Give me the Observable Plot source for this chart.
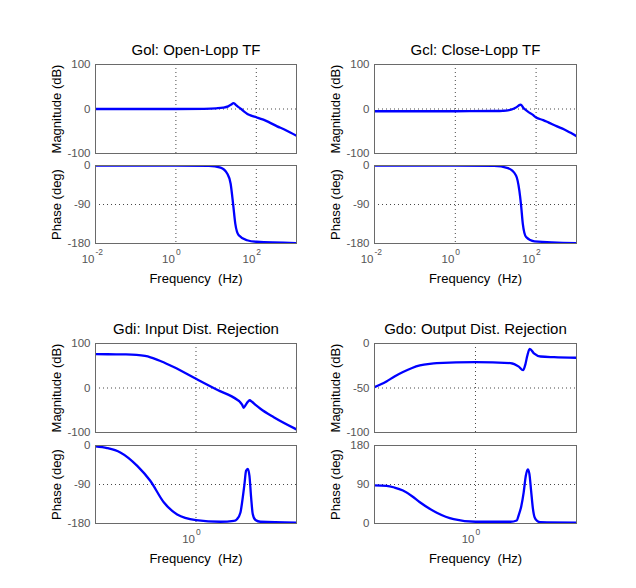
<!DOCTYPE html>
<html>
<head>
<meta charset="utf-8">
<script src="https://cdn.jsdelivr.net/npm/d3@7"></script>
<script src="https://cdn.jsdelivr.net/npm/@observablehq/plot@0.6"></script>
<style>
html, body { margin: 0; padding: 0; background: #fff; }
#chart { position: relative; width: 636px; height: 588px; background: #fff; overflow: hidden; }
#chart svg { position: absolute; overflow: visible; }
</style>
</head>
<body>
<div id="chart"></div>
<script>
// ---------- data ----------
const titles = ["Gol: Open-Lopp TF", "Gcl: Close-Lopp TF", "Gdi: Input Dist. Rejection", "Gdo: Output Dist. Rejection"];
const magLabel = "Magnitude (dB)";
const phaseLabel = "Phase (deg)";
const freqLabel = "Frequency  (Hz)";

const topFreqDomain = [0.01, 1000];
const topFreqTicks = [0.01, 1, 100];
const topFreqExp = ["-2", "0", "2"];
const bottomFreqDomain = [0.00135, 741];
const bottomFreqTicks = [1];
const bottomFreqExp = ["0"];

const magTicks = [100, 0, -100];
const phaseTicks = [0, -90, -180];
const gdoMagTicks = [0, -50, -100];
const gdoPhaseTicks = [180, 90, 0];

// Gol: open-loop
const golMagFreq = [0.01, 0.1, 1, 5, 10, 15, 20, 24, 27, 29, 32, 37, 42, 50, 60, 75, 100, 150, 200, 330, 500, 700, 1000];
const golMagDb   = [0, 0, 0, 0.5, 1.5, 3, 6, 10, 13, 12, 8, 3.5, 0, -6, -11, -15, -18.5, -24, -29, -39, -46, -53, -60];
const golPhFreq  = [0.01, 1, 6.6, 12.9, 19, 23, 26.7, 30, 36.6, 59, 100, 1000];
const golPhDeg   = [0, 0, -1, -5, -19, -42, -92, -134, -161, -172.5, -176, -179];

// Gcl: closed-loop
const gclMagFreq = [0.01, 1, 10, 15, 20, 25, 30, 35, 38, 41, 44, 48, 55, 65, 80, 100, 150, 200, 330, 500, 700, 1000];
const gclMagDb   = [-5, -5, -4.5, -4, -3, -1, 2, 6, 8.5, 10, 8, 3, -2, -7, -12, -19, -25, -30, -39, -46, -53, -61];
const gclPhFreq  = [0.01, 1, 9.1, 20, 31.8, 38.5, 42.5, 46.8, 56.6, 91, 1000];
const gclPhDeg   = [0, 0, -1, -6, -23, -58, -92, -134, -165, -175, -179];

// Gdi: input disturbance rejection
const gdiMagFreq = [0.00135, 0.003, 0.01, 0.02, 0.035, 0.05, 0.1, 0.23, 1, 4, 15, 17.8, 20.9, 22.9, 26.3, 30.2, 33.9, 39.8, 50.1, 69.2, 166, 741];
const gdiMagDb   = [76, 75.8, 75.5, 74.5, 72, 69, 60, 47, 20.6, -4, -26.5, -31, -38, -44.5, -38, -31, -27.5, -31, -38, -46.7, -65.6, -93];
const gdiPhFreq  = [0.00135, 0.0029, 0.0069, 0.021, 0.05, 0.12, 0.29, 1, 5, 12, 14.8, 18.6, 20.7, 24.2, 26.9, 30.1, 33.6, 37.5, 41.7, 49.8, 69, 741];
const gdiPhDeg   = [-2, -6, -16, -47, -82, -131, -159, -172, -176, -174, -170, -154.6, -131.5, -89, -58.4, -54, -70, -120, -158, -172, -176, -178];

// Gdo: output disturbance rejection
const gdoMagFreq = [0.00135, 0.00295, 0.005, 0.0087, 0.0158, 0.0263, 0.05, 0.0794, 1, 9.77, 17, 22.4, 26.3, 29.5, 34.7, 45.7, 70.8, 170, 741];
const gdoMagDb   = [-49, -42.7, -37, -32, -27.5, -24.7, -22.8, -22, -21, -22, -26, -30, -23, -14, -6, -11, -14.6, -15.4, -16];
const gdoPhFreq  = [0.00135, 0.00295, 0.005, 0.0087, 0.0158, 0.0263, 0.05, 0.0794, 0.24, 1, 9.77, 14.8, 17, 20, 23.4, 26.9, 30.6, 33.9, 38, 42.7, 47.9, 56.2, 69.2, 741];
const gdoPhDeg   = [88, 87, 83, 76, 63, 49, 34, 25, 10, 4, 4, 7, 20, 40, 72, 110, 125, 115, 76, 35, 14, 6, 3, 2];

// ---------- layout ----------
const FONT = "'Liberation Sans', Arial, Helvetica, sans-serif";
const colLeft = [95, 374];
const colWidth = [201, 202];
const magTop = [64, 343];
const phTop = [165, 445];
const magH = 89, phH = 78;
const ML = 62, MR = 8;

const chart = document.getElementById("chart");

function panel(o) {
  const mt = o.kind === "mag" ? 34 : 4;
  const mb = o.kind === "mag" ? 4 : 48;
  const marks = [
    Plot.gridX(o.xTicks, {stroke: "#333", strokeOpacity: 0.9, strokeDasharray: "1,3", strokeWidth: 1}),
    Plot.gridY(o.yTicks, {stroke: "#333", strokeOpacity: 0.9, strokeDasharray: "1,3", strokeWidth: 1}),
    Plot.line(o.vals, {x: o.freq, y: o.vals, stroke: "#0000ff", strokeWidth: 2.3, curve: "monotone-x", clip: true}),
    Plot.frame({stroke: "#6a6a6a"}),
    Plot.axisY(o.yTicks, {tickSize: 0, tickPadding: 5, fontSize: 11.5, fill: "#555", label: null, tickFormat: d => String(d)}),
    Plot.text([o.ylabel], {text: d => d, frameAnchor: "left", textAnchor: "middle", rotate: -90, dx: -35, lineAnchor: "bottom", fontSize: 13, fill: "#000"})
  ];
  if (o.kind === "mag") {
    marks.push(Plot.text([o.title], {text: d => d, frameAnchor: "top", textAnchor: "middle", dy: -10, lineAnchor: "bottom", fontSize: 15, fill: "#000"}));
  } else {
    marks.push(
      Plot.text(o.xTicks, {x: d => d, text: () => "10", frameAnchor: "bottom", textAnchor: "end", dx: -1, dy: 19.5, lineAnchor: "bottom", fontSize: 11.5, fill: "#555"}),
      Plot.text(o.xTicks, {x: d => d, text: o.xExp, frameAnchor: "bottom", textAnchor: "start", dx: 0, dy: 11.5, lineAnchor: "bottom", fontSize: 8.5, fill: "#555"}),
      Plot.text([freqLabel], {text: d => d, frameAnchor: "bottom", textAnchor: "middle", dy: 39.5, lineAnchor: "bottom", fontSize: 13, fill: "#000"})
    );
  }
  const svg = Plot.plot({
    width: ML + o.w + MR,
    height: mt + o.h + mb,
    marginLeft: ML, marginRight: MR, marginTop: mt, marginBottom: mb,
    style: {fontFamily: FONT, background: "transparent", overflow: "visible"},
    x: {type: "log", domain: o.xDomain, axis: null},
    y: {domain: o.yDomain, axis: null},
    marks
  });
  svg.style.left = (o.left - ML) + "px";
  svg.style.top = (o.top - mt) + "px";
  chart.appendChild(svg);
}

const specs = [
  {c: 0, r: 0, title: titles[0], xDomain: topFreqDomain, xTicks: topFreqTicks, xExp: topFreqExp,
   mag: [golMagFreq, golMagDb, [-100, 100], magTicks], ph: [golPhFreq, golPhDeg, [-180, 0], phaseTicks]},
  {c: 1, r: 0, title: titles[1], xDomain: topFreqDomain, xTicks: topFreqTicks, xExp: topFreqExp,
   mag: [gclMagFreq, gclMagDb, [-100, 100], magTicks], ph: [gclPhFreq, gclPhDeg, [-180, 0], phaseTicks]},
  {c: 0, r: 1, title: titles[2], xDomain: bottomFreqDomain, xTicks: bottomFreqTicks, xExp: bottomFreqExp,
   mag: [gdiMagFreq, gdiMagDb, [-100, 100], magTicks], ph: [gdiPhFreq, gdiPhDeg, [-180, 0], phaseTicks]},
  {c: 1, r: 1, title: titles[3], xDomain: bottomFreqDomain, xTicks: bottomFreqTicks, xExp: bottomFreqExp,
   mag: [gdoMagFreq, gdoMagDb, [-100, 0], gdoMagTicks], ph: [gdoPhFreq, gdoPhDeg, [0, 180], gdoPhaseTicks]}
];

for (const s of specs) {
  panel({kind: "mag", left: colLeft[s.c], top: magTop[s.r], w: colWidth[s.c], h: magH, title: s.title,
         xDomain: s.xDomain, xTicks: s.xTicks, freq: s.mag[0], vals: s.mag[1], yDomain: s.mag[2], yTicks: s.mag[3], ylabel: magLabel});
  panel({kind: "ph", left: colLeft[s.c], top: phTop[s.r], w: colWidth[s.c], h: phH,
         xDomain: s.xDomain, xTicks: s.xTicks, xExp: s.xExp, freq: s.ph[0], vals: s.ph[1], yDomain: s.ph[2], yTicks: s.ph[3], ylabel: phaseLabel});
}
</script>
</body>
</html>
